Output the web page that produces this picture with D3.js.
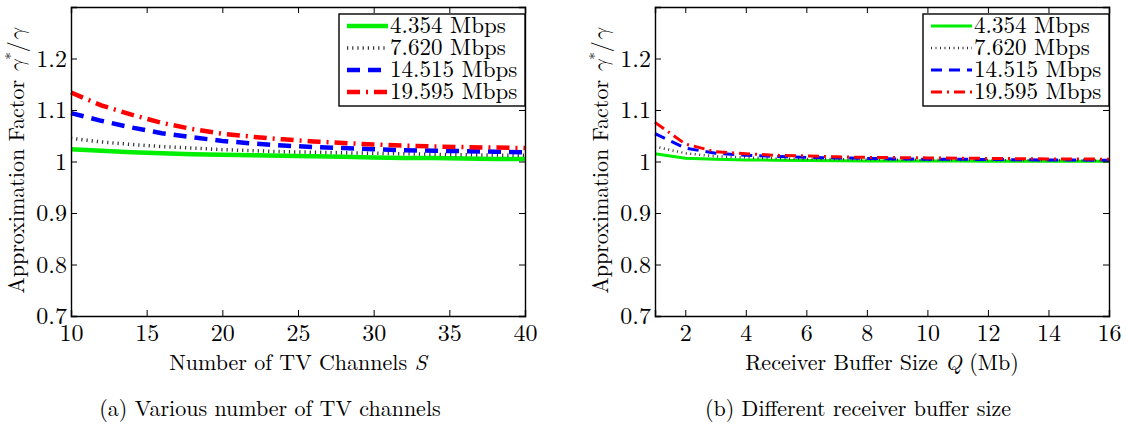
<!DOCTYPE html>
<html>
<head>
<meta charset="utf-8">
<script src="https://cdn.jsdelivr.net/npm/d3@7"></script>
<style>
  body { margin: 0; background: #fff; }
</style>
</head>
<body>
<svg id="chart" width="1126" height="426"></svg>
<script>
// series labels
var rates = ["4.354 Mbps", "7.620 Mbps", "14.515 Mbps", "19.595 Mbps"];

// (a) number of TV channels S
var channels = [10, 12, 14, 16, 18, 20, 22, 24, 26, 28, 30, 32, 34, 36, 38, 40];
var factorA_4354  = [1.024, 1.021, 1.018, 1.016, 1.014, 1.013, 1.012, 1.011, 1.010, 1.009, 1.008, 1.007, 1.007, 1.006, 1.005, 1.005];
var factorA_7620  = [1.045, 1.038, 1.033, 1.029, 1.026, 1.023, 1.021, 1.019, 1.018, 1.017, 1.016, 1.015, 1.014, 1.013, 1.0125, 1.012];
var factorA_14515 = [1.094, 1.079, 1.066, 1.055, 1.047, 1.040, 1.035, 1.031, 1.028, 1.026, 1.024, 1.022, 1.021, 1.020, 1.019, 1.018];
var factorA_19595 = [1.134, 1.109, 1.091, 1.075, 1.063, 1.054, 1.048, 1.043, 1.039, 1.036, 1.033, 1.031, 1.029, 1.028, 1.027, 1.026];

// (b) receiver buffer size Q (Mb)
var buffers = [1, 2, 3, 4, 5, 6, 7, 8, 9, 10, 11, 12, 13, 14, 15, 16];
var factorB_4354  = [1.015, 1.0065, 1.0045, 1.003, 1.0025, 1.002, 1.0015, 1.0012, 1.001, 1.001, 1.0008, 1.0007, 1.0006, 1.0005, 1.0005, 1.0004];
var factorB_7620  = [1.029, 1.016, 1.010, 1.008, 1.006, 1.005, 1.0045, 1.004, 1.0035, 1.003, 1.003, 1.0027, 1.0025, 1.0023, 1.0022, 1.002];
var factorB_14515 = [1.054, 1.026, 1.016, 1.012, 1.010, 1.008, 1.007, 1.006, 1.005, 1.0045, 1.0042, 1.004, 1.0035, 1.003, 1.0028, 1.0025];
var factorB_19595 = [1.076, 1.034, 1.019, 1.015, 1.012, 1.011, 1.009, 1.008, 1.0075, 1.007, 1.0065, 1.006, 1.0055, 1.005, 1.0048, 1.0045];

var yTicks = [0.7, 0.8, 0.9, 1.0, 1.1, 1.2, 1.3];
var yTickLabels = ["0.7", "0.8", "0.9", "1", "1.1", "1.2", ""];
var xTicksA = [10, 15, 20, 25, 30, 35, 40];
var xTicksB = [2, 4, 6, 8, 10, 12, 14, 16];

var colors = ["#00ee00", "#333", "#0000ff", "#ff0000"];
var FONT = "'Latin Modern Roman', 'CMU Serif', 'Liberation Serif', serif";
var MATH = "'Latin Modern Math', 'Latin Modern Roman', serif";

var svg = d3.select("#chart");

function panel(opt) {
    var g = svg.append("g");
    var x = d3.scaleLinear().domain(opt.xDomain).range([opt.left, opt.right]);
    var y = d3.scaleLinear().domain([0.7, 1.3]).range([316, 7]);

    // series
    var line = d3.line().x(function(d) { return x(d[0]); }).y(function(d) { return y(d[1]); });
    opt.series.forEach(function(vals, i) {
        var pts = opt.xs.map(function(v, j) { return [v, vals[j]]; });
        g.append("path").datum(pts)
            .attr("d", line)
            .attr("fill", "none")
            .attr("stroke", colors[i])
            .attr("stroke-width", opt.styles[i].w)
            .attr("stroke-dasharray", opt.styles[i].dash);
    });

    // axes, ticks inside on all sides
    var tk = 6;
    g.append("g").attr("transform", "translate(0,316)")
        .call(d3.axisBottom(x).tickValues(opt.xTicks).tickSize(-tk).tickPadding(8).tickFormat(d3.format("d")));
    g.append("g").attr("transform", "translate(0,7)")
        .call(d3.axisTop(x).tickValues(opt.xTicks).tickSize(-tk).tickFormat(""));
    g.append("g").attr("transform", "translate(" + opt.left + ",0)")
        .call(d3.axisLeft(y).tickValues(yTicks).tickSize(-tk).tickPadding(4)
            .tickFormat(function(d, i) { return yTickLabels[i]; }));
    g.append("g").attr("transform", "translate(" + opt.right + ",0)")
        .call(d3.axisRight(y).tickValues(yTicks).tickSize(-tk).tickFormat(""));
    g.selectAll(".domain").attr("stroke", "#000").attr("stroke-width", 1.4);
    g.selectAll(".tick line").attr("stroke", "#000").attr("stroke-width", 1);
    g.selectAll(".tick text").attr("font-size", 24).attr("fill", "#000").style("font-family", FONT);

    // axis titles
    var xt = g.append("text").attr("x", (opt.left + opt.right) / 2).attr("y", 370)
        .attr("text-anchor", "middle").attr("font-size", 22).style("font-family", FONT);
    xt.append("tspan").text(opt.xTitle[0]);
    xt.append("tspan").attr("font-style", "italic").text(opt.xTitle[1]);
    if (opt.xTitle[2]) xt.append("tspan").text(opt.xTitle[2]);

    var yt = g.append("text")
        .attr("transform", "translate(" + (opt.left - 47) + ",161) rotate(-90)")
        .attr("text-anchor", "middle").attr("font-size", 22).style("font-family", FONT);
    yt.append("tspan").text("Approximation Factor ");
    yt.append("tspan").style("font-family", MATH).attr("font-style", "italic").text("\u03b3");
    yt.append("tspan").attr("font-size", 15).attr("dy", -8).text("*");
    yt.append("tspan").attr("dy", 8).text("/");
    yt.append("tspan").style("font-family", MATH).attr("font-style", "italic").text("\u03b3");

    // caption
    g.append("text").attr("x", opt.capX).attr("y", 416).attr("text-anchor", "middle")
        .attr("font-size", 22).style("font-family", FONT).text(opt.caption);

    // legend
    var lw = 186, lh = 92, lx = opt.right - lw, ly = 14;
    var lg = g.append("g").attr("transform", "translate(" + lx + "," + ly + ")");
    lg.append("rect").attr("width", lw).attr("height", lh)
        .attr("fill", "#fff").attr("stroke", "#000").attr("stroke-width", 1.4);
    rates.forEach(function(r, i) {
        var cy = 12 + i * 22;
        lg.append("line").attr("x1", 8).attr("x2", 49).attr("y1", cy).attr("y2", cy)
            .attr("stroke", colors[i]).attr("stroke-width", opt.styles[i].w)
            .attr("stroke-dasharray", opt.styles[i].dash);
        lg.append("text").attr("x", 51).attr("y", cy + 7).attr("font-size", 23)
            .style("font-family", FONT).text(r);
    });
}

panel({
    left: 71, right: 525, xDomain: [10, 40], xTicks: xTicksA, xs: channels,
    series: [factorA_4354, factorA_7620, factorA_14515, factorA_19595],
    styles: [{w: 4.5, dash: null}, {w: 3.5, dash: "1.2,4"}, {w: 4.5, dash: "13,8"}, {w: 4.5, dash: "13,6,2,6"}],
    xTitle: ["Number of TV Channels ", "S"],
    caption: "(a) Various number of TV channels", capX: 270
});

panel({
    left: 655, right: 1109, xDomain: [1, 16], xTicks: xTicksB, xs: buffers,
    series: [factorB_4354, factorB_7620, factorB_14515, factorB_19595],
    styles: [{w: 3, dash: null}, {w: 2.5, dash: "1,3.5"}, {w: 3, dash: "11,7"}, {w: 3, dash: "11,5,2,5"}],
    xTitle: ["Receiver Buffer Size ", "Q", " (Mb)"],
    caption: "(b) Different receiver buffer size", capX: 858
});
</script>
</body>
</html>
